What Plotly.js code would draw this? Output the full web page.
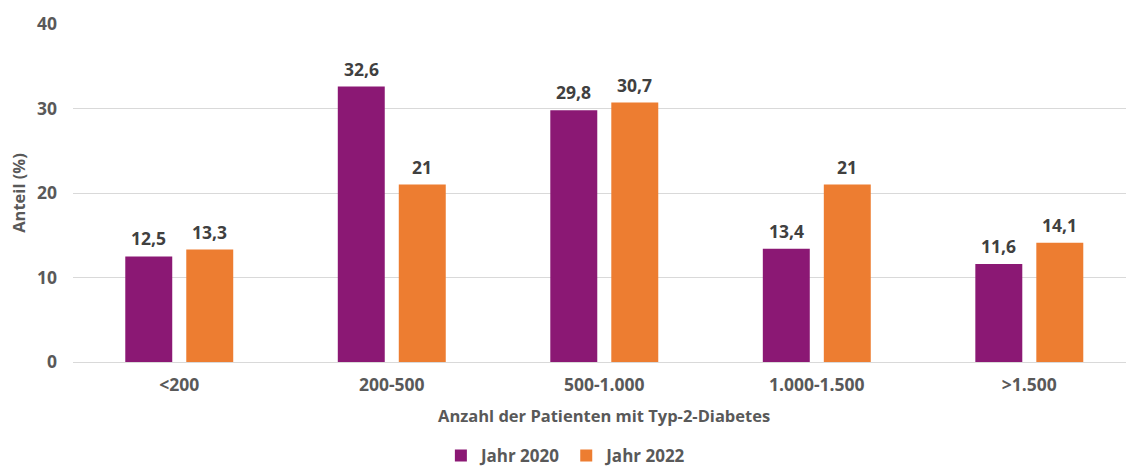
<!DOCTYPE html>
<html><head><meta charset="utf-8">
<script src="https://cdn.plot.ly/plotly-3.0.1.min.js"></script>
<style>html,body{margin:0;padding:0;background:#fff;}</style>
</head><body>
<div id="chart" style="width:1126px;height:468px;"></div>
<script>
const categories = ["<200", "200-500", "500-1.000", "1.000-1.500", ">1.500"];
const jahr2020 = [12.5, 32.6, 29.8, 13.4, 11.6];
const jahr2022 = [13.3, 21, 30.7, 21, 14.1];
const seriesNames = ["Jahr 2020", "Jahr 2022"];
const yTicks = [0, 10, 20, 30, 40];
const xTitle = "Anzahl der Patienten mit Typ-2-Diabetes";
const yTitle = "Anteil (%)";

const FONT = "'Open Sans', sans-serif";
const GREY = "#595959";
const labelFont = {family: FONT, size: 17.5, color: "#404040", weight: "bold"};

const traces = [
  {type: "bar", name: seriesNames[0], x: categories, y: jahr2020, marker: {color: "#8B1874"}},
  {type: "bar", name: seriesNames[1], x: categories, y: jahr2022, marker: {color: "#ED7D31"}}
];

// value labels, placed through the axes at each bar's value
const annotations = [];
[jahr2020, jahr2022].forEach((vals, s) => {
  vals.forEach((v, i) => {
    annotations.push({
      x: categories[i], y: v, xref: "x", yref: "y",
      text: "<b>" + String(v).replace(".", ",") + "</b>",
      showarrow: false, xshift: s === 0 ? -30.5 : 30.5, yshift: 18, yanchor: "middle",
      font: labelFont
    });
  });
});
// x-axis title centred on the middle category
annotations.push({
  x: categories[2], xref: "x", y: 0, yref: "paper", yanchor: "middle", yshift: -53,
  text: "<b>" + xTitle + "</b>", showarrow: false,
  font: {family: FONT, size: 16.5, color: GREY}
});

const layout = {
  width: 1126, height: 468,
  margin: {l: 73, r: 0, t: 24, b: 106},
  paper_bgcolor: "#fff", plot_bgcolor: "#fff",
  separators: ",.",
  font: {family: FONT, size: 16, color: GREY},
  barmode: "group", bargap: 0.426, bargroupgap: 0.23,
  annotations: annotations,
  xaxis: {
    type: "category", range: [-0.5, 4.455], showgrid: false, zeroline: false,
    showline: false, ticks: "", ticklabelstandoff: 10,
    tickfont: {family: FONT, size: 17.5, color: GREY, weight: "bold"}
  },
  yaxis: {
    range: [0, 40], tickvals: yTicks, showgrid: true, gridcolor: "#D9D9D9", gridwidth: 1,
    zeroline: true, zerolinecolor: "#D9D9D9", zerolinewidth: 1, showline: false, ticks: "",
    ticklabelstandoff: 15,
    tickfont: {family: FONT, size: 17.5, color: GREY, weight: "bold"},
    title: {text: "<b>" + yTitle + "</b>", standoff: 7,
            font: {family: FONT, size: 16.5, color: GREY}}
  },
  showlegend: true,
  legend: {orientation: "h", xref: "container", yref: "container", x: 0.503, xanchor: "center",
           y: 0.026, yanchor: "middle", font: {family: FONT, size: 17, color: GREY, weight: "bold"},
           itemwidth: 30, traceorder: "normal"}
};

Plotly.newPlot("chart", traces, layout, {displayModeBar: false, staticPlot: true});
</script>
</body></html>
